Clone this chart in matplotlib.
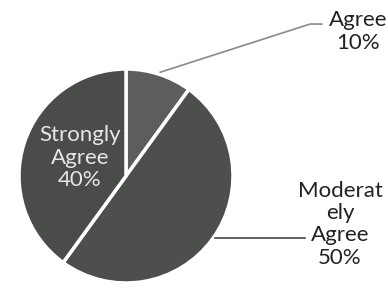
import matplotlib
matplotlib.use("Agg")
import matplotlib.pyplot as plt

# --- DATA ---
labels = ["Agree", "Moderately Agree", "Strongly Agree"]
label_text = ["Agree\n10%", "Moderat\nely\nAgree\n50%", "Strongly\nAgree\n40%"]
shares = [10, 50, 40]
colors = ["#5c5e5c", "#4d4f4d", "#4a4c4a"]

plt.rcParams["font.family"] = ["Lato", "DejaVu Sans"]

W, H = 388, 293
fig = plt.figure(figsize=(W / 100, H / 100), dpi=100)
fig.patch.set_facecolor("white")

# pie centre / radius in pixels
cx, cy, r = 126, 176, 107
ax = fig.add_axes([(cx - r) / W, (H - cy - r) / H, 2 * r / W, 2 * r / H])
ax.pie(shares, colors=colors, startangle=90, counterclock=False,
       wedgeprops=dict(edgecolor="white", linewidth=2.5))
ax.set_xlim(-1, 1)
ax.set_ylim(-1, 1)
ax.set_aspect("equal")
ax.axis("off")

# labels
fs = 16
ls = 1.15
ax.text(2.17, 1.35, label_text[0], ha="center", va="center", fontsize=fs,
        color="#222222", linespacing=ls, clip_on=False)
ax.text(2.0, -0.45, label_text[1], ha="center", va="center", fontsize=fs,
        color="#222222", linespacing=ls, clip_on=False)
ax.text(-0.43, 0.17, label_text[2], ha="center", va="center", fontsize=fs,
        color="#e6e6e6", linespacing=ls, clip_on=False)

# leader lines
ax.plot([0.32, 1.72, 1.83], [0.97, 1.42, 1.42], color="#8a8a8a", lw=1.2, clip_on=False)
ax.plot([0.83, 1.67], [-0.58, -0.58], color="#444444", lw=1.2, clip_on=False)

fig.savefig("out.png", dpi=100)
